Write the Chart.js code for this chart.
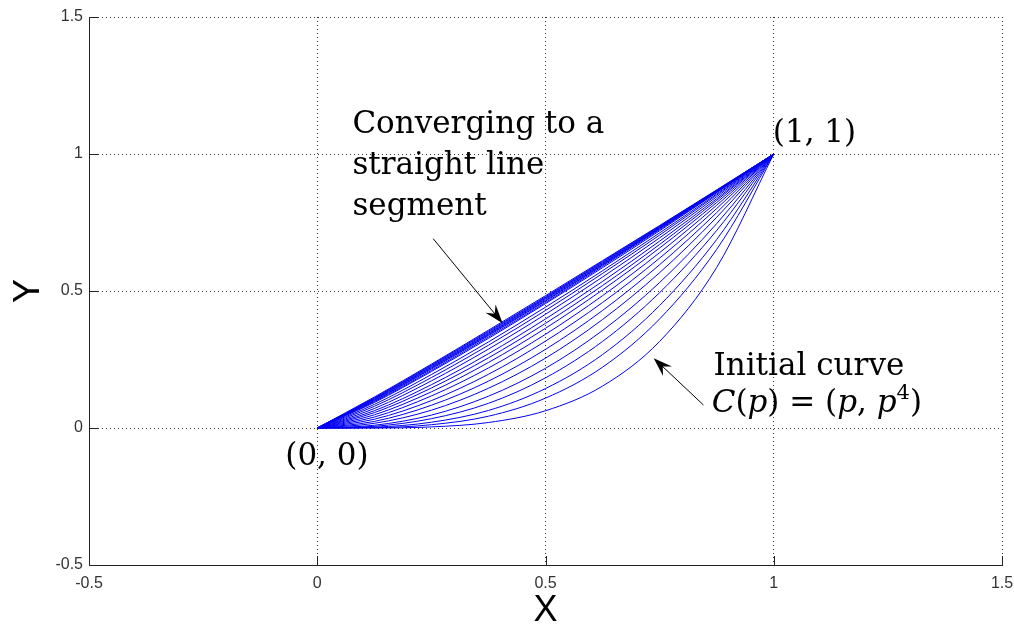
<!DOCTYPE html>
<html>
<head>
<meta charset="utf-8">
<script src="https://cdn.jsdelivr.net/npm/chart.js@4/dist/chart.umd.min.js"></script>
<style>
  html, body { margin: 0; padding: 0; background: #fff; }
  canvas { display: block; }
</style>
</head>
<body>
<canvas id="flow" width="1014" height="627"></canvas>
<script>
// sample positions along p
const px = [0, 0.125, 0.25, 0.375, 0.5, 0.625, 0.75, 0.875, 1];

// successive curves of the flow, from C(p) = (p, p^4) towards the segment
const curves = [
  [0, 0.000, 0.004, 0.020, 0.063, 0.153, 0.316, 0.586, 1],
  [0, 0.001, 0.012, 0.043, 0.109, 0.222, 0.398, 0.652, 1],
  [0, 0.003, 0.021, 0.064, 0.144, 0.268, 0.447, 0.688, 1],
  [0, 0.006, 0.034, 0.090, 0.183, 0.316, 0.494, 0.721, 1],
  [0, 0.010, 0.047, 0.116, 0.218, 0.356, 0.531, 0.746, 1],
  [0, 0.017, 0.065, 0.145, 0.255, 0.396, 0.567, 0.769, 1],
  [0, 0.024, 0.083, 0.171, 0.287, 0.429, 0.596, 0.786, 1],
  [0, 0.032, 0.100, 0.196, 0.317, 0.458, 0.620, 0.801, 1],
  [0, 0.040, 0.117, 0.219, 0.342, 0.483, 0.640, 0.813, 1],
  [0, 0.048, 0.132, 0.239, 0.364, 0.504, 0.657, 0.823, 1],
  [0, 0.056, 0.146, 0.256, 0.382, 0.520, 0.670, 0.831, 1],
  [0, 0.063, 0.158, 0.271, 0.398, 0.535, 0.682, 0.837, 1],
  [0, 0.071, 0.172, 0.288, 0.415, 0.551, 0.694, 0.844, 1],
  [0, 0.079, 0.184, 0.302, 0.429, 0.564, 0.704, 0.850, 1],
  [0, 0.086, 0.195, 0.314, 0.441, 0.574, 0.712, 0.854, 1],
  [0, 0.093, 0.206, 0.327, 0.454, 0.585, 0.720, 0.859, 1],
  [0, 0.096, 0.210, 0.332, 0.458, 0.590, 0.724, 0.860, 1],
  [0, 0.099, 0.215, 0.337, 0.463, 0.594, 0.727, 0.862, 1],
  [0, 0.101, 0.218, 0.340, 0.466, 0.596, 0.729, 0.863, 1],
  [0, 0.104, 0.221, 0.343, 0.470, 0.599, 0.731, 0.865, 1],
  [0, 0.106, 0.224, 0.346, 0.473, 0.602, 0.733, 0.866, 1],
  [0, 0.108, 0.227, 0.350, 0.476, 0.605, 0.735, 0.867, 1],
  [0, 0.110, 0.230, 0.353, 0.479, 0.608, 0.737, 0.868, 1],
  [0, 0.113, 0.233, 0.357, 0.483, 0.611, 0.739, 0.869, 1]
];

const xRange = [-0.5, 1.5];
const yRange = [-0.5, 1.5];
const tickStep = 0.5;

const serif = '"DejaVu Serif", serif';
const sans = '"Liberation Sans", Arial, sans-serif';

function arrow(ctx, x1, y1, x2, y2) {
  const a = Math.atan2(y2 - y1, x2 - x1);
  const len = 19, half = 6.5;
  const c = Math.cos(a), s = Math.sin(a);
  ctx.beginPath();
  ctx.moveTo(x1, y1);
  ctx.lineTo(x2 - c * len * 0.6, y2 - s * len * 0.6);
  ctx.stroke();
  ctx.beginPath();
  ctx.moveTo(x2, y2);
  ctx.lineTo(x2 - c * len - s * half, y2 - s * len + c * half);
  ctx.lineTo(x2 - c * len * 0.65, y2 - s * len * 0.65);
  ctx.lineTo(x2 - c * len + s * half, y2 - s * len - c * half);
  ctx.closePath();
  ctx.fill();
}

// draw a row of [text, font, dy] pieces one after another
function runs(ctx, x, y, parts) {
  parts.forEach(p => {
    ctx.font = p[1];
    ctx.fillText(p[0], x, y + (p[2] || 0));
    x += ctx.measureText(p[0]).width;
  });
}

const notes = {
  id: 'notes',
  afterDraw(chart) {
    const { ctx, chartArea: area, scales: { x, y } } = chart;
    const X = v => x.getPixelForValue(v);
    const Y = v => y.getPixelForValue(v);
    ctx.save();

    // inward tick marks
    ctx.strokeStyle = '#222';
    ctx.lineWidth = 1;
    x.ticks.forEach(t => {
      const p = Math.round(X(t.value)) + 0.5;
      ctx.beginPath(); ctx.moveTo(p, area.bottom); ctx.lineTo(p, area.bottom - 9); ctx.stroke();
    });
    y.ticks.forEach(t => {
      const p = Math.round(Y(t.value)) + 0.5;
      ctx.beginPath(); ctx.moveTo(area.left, p); ctx.lineTo(area.left + 9, p); ctx.stroke();
    });

    // axis names
    ctx.fillStyle = '#000';
    ctx.font = '36px ' + sans;
    ctx.textAlign = 'center';
    ctx.textBaseline = 'middle';
    ctx.fillText('X', (area.left + area.right) / 2, 611);
    ctx.save();
    ctx.translate(29, (area.top + area.bottom) / 2);
    ctx.rotate(-Math.PI / 2);
    ctx.fillText('Y', 0, 0);
    ctx.restore();

    // annotations
    ctx.textAlign = 'left';
    ctx.textBaseline = 'alphabetic';
    const roman = '31px ' + serif;
    const ital = 'italic 31px ' + serif;
    ctx.font = roman;
    ctx.fillText('Converging to a', X(0.077), Y(1.076));
    ctx.fillText('straight line', X(0.077), Y(0.927));
    ctx.fillText('segment', X(0.077), Y(0.778));
    ctx.fillText('(1, 1)', X(0.998), Y(1.044));
    ctx.fillText('(0, 0)', X(-0.07), Y(-0.135));
    ctx.fillText('Initial curve', X(0.868), Y(0.193));
    runs(ctx, X(0.864), Y(0.058), [
      ['C', ital], ['(', roman], ['p', ital], [')', roman], [' = ', roman],
      ['(', roman], ['p', ital], [', ', roman], ['p', ital], ['4', '21px ' + serif, -13], [')', roman]
    ]);

    ctx.strokeStyle = '#000';
    ctx.lineWidth = 1;
    arrow(ctx, X(0.254), Y(0.691), X(0.406), Y(0.382));
    arrow(ctx, X(0.846), Y(0.084), X(0.737), Y(0.255));
    ctx.restore();
  }
};

const datasets = curves.map((ys, i) => ({
  label: 'step ' + i,
  data: px.map((v, j) => ({ x: v, y: ys[j] })),
  showLine: true,
  borderColor: '#0000f0',
  borderWidth: 1,
  pointRadius: 0,
  fill: false,
  cubicInterpolationMode: 'monotone'
}));

const gridStyle = { color: 'rgba(0,0,0,0.8)', lineWidth: 1, drawTicks: false };
const borderStyle = { display: true, color: '#222', width: 1, dash: [1, 3] };
const tickFont = { family: sans, size: 16 };
const tickText = v => String(v);

new Chart(document.getElementById('flow').getContext('2d'), {
  type: 'scatter',
  data: { datasets },
  options: {
    responsive: false,
    animation: false,
    layout: { padding: { top: 17, right: 12, left: 0, bottom: 0 } },
    plugins: { legend: { display: false }, tooltip: { enabled: false } },
    scales: {
      x: {
        min: xRange[0], max: xRange[1],
        ticks: { stepSize: tickStep, color: '#333', font: tickFont, padding: 9, maxRotation: 0, callback: tickText },
        grid: gridStyle,
        border: borderStyle,
        afterFit: s => { s.height = 62; s.paddingLeft = 0; s.paddingRight = 0; }
      },
      y: {
        min: yRange[0], max: yRange[1],
        ticks: { stepSize: tickStep, color: '#333', font: tickFont, padding: 6, callback: tickText },
        grid: gridStyle,
        border: borderStyle,
        afterFit: s => { s.width = 89; }
      }
    }
  },
  plugins: [notes]
});
</script>
</body>
</html>
